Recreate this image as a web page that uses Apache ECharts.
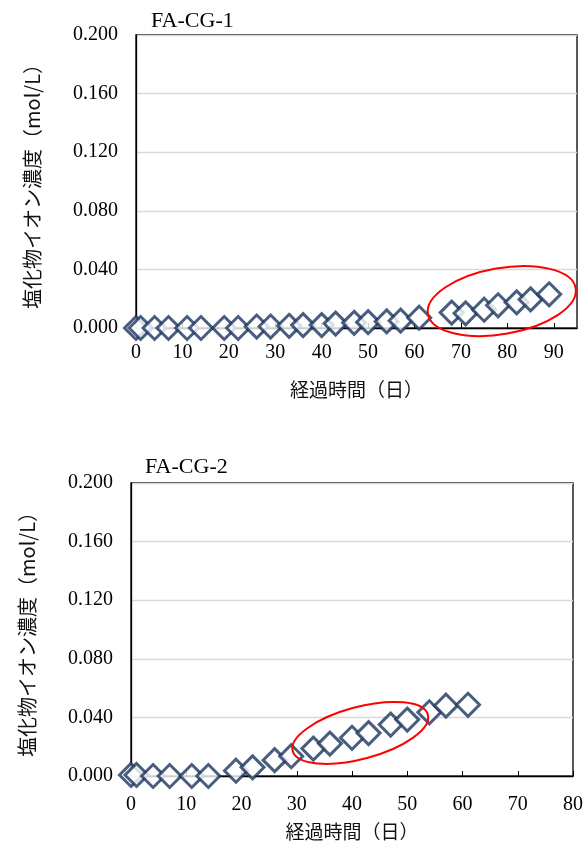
<!DOCTYPE html>
<html>
<head>
<meta charset="utf-8">
<script src="https://cdn.jsdelivr.net/npm/echarts@6/dist/echarts.min.js"></script>
<style>
  html, body { margin: 0; padding: 0; background: #fff; }
  #chart { width: 587px; height: 852px; }
</style>
</head>
<body>
<div id="chart"></div>
<script>
// FA-CG-1
const days1 = [0, 1, 4, 7, 11, 14, 19, 22, 26, 29, 33, 36, 40, 43, 47, 50, 54, 57, 61, 68, 71, 75, 78, 82, 85, 89];
const conc1 = [0, 0, 0, 0, 0, 0, 0, 0, 0.001, 0.001, 0.0015, 0.002, 0.002, 0.003, 0.0035, 0.004, 0.0045, 0.005, 0.007, 0.0105, 0.010, 0.0125, 0.0155, 0.0175, 0.0195, 0.023];
// FA-CG-2
const days2 = [0, 1, 4, 7, 11, 14, 19, 22, 26, 29, 33, 36, 40, 43, 47, 50, 54, 57, 61];
const conc2 = [0.0007, 0.0007, 0, 0, 0, 0, 0.0036, 0.0059, 0.0108, 0.0135, 0.0187, 0.0221, 0.0261, 0.0293, 0.0351, 0.0385, 0.0435, 0.048, 0.0486];

const titles = ["FA-CG-1", "FA-CG-2"];
const xMax = [95, 80];
const yTicks = ["0.000", "0.040", "0.080", "0.120", "0.160", "0.200"];
const yName = "塩化物イオン濃度（mol/L）";
const xName = "経過時間（日）";

// 赤い楕円の中心（データ座標）
const ringCenters = [[78.8, 0.0184], [41.5, 0.0294]];

const serif = "'Liberation Serif', 'DejaVu Serif', serif";
const cjk = "'Noto Sans CJK JP', sans-serif";
const navy = "#1c355e";

const chart = echarts.init(document.getElementById("chart"));

const toPairs = (xs, ys) => xs.map((x, i) => [x, ys[i]]);

const makeX = (idx, nameGap, labelMargin) => ({
  type: "value",
  gridIndex: idx,
  min: 0,
  max: xMax[idx],
  interval: 10,
  name: xName,
  nameLocation: "middle",
  nameGap: nameGap,
  nameTextStyle: { fontFamily: cjk, fontSize: 19, color: "#111" },
  axisLine: { show: true, onZero: false, lineStyle: { color: "#000", width: 1.3 } },
  axisTick: { show: true, inside: true, length: 5, lineStyle: { color: "#000" } },
  axisLabel: { fontFamily: serif, fontSize: 20, color: "#000", margin: labelMargin, showMaxLabel: idx === 1 },
  splitLine: { show: false }
});

const makeY = (idx) => ({
  type: "value",
  gridIndex: idx,
  min: 0,
  max: 0.2,
  interval: 0.04,
  name: yName,
  nameLocation: "middle",
  nameGap: 94,
  nameRotate: 90,
  nameTextStyle: { fontFamily: cjk, fontSize: 20, color: "#111" },
  axisLine: { show: true, lineStyle: { color: "#000", width: 1.3 } },
  axisTick: { show: false },
  axisLabel: {
    fontFamily: serif, fontSize: 20, color: "#000", margin: 18,
    formatter: (v) => yTicks[Math.round(v / 0.04)]
  },
  splitLine: { show: true, lineStyle: { color: "#d9d9d9", width: 1.3 } }
});

const makeSeries = (idx, data) => ({
  type: "scatter",
  xAxisIndex: idx,
  yAxisIndex: idx,
  data: data,
  symbol: "diamond",
  symbolSize: 23,
  itemStyle: { color: "#fff", borderColor: navy, borderWidth: 3 },
  emphasis: { disabled: true }
});

chart.setOption({
  animation: false,
  backgroundColor: "#fff",
  title: [
    { text: titles[0], left: 146, top: 5, textStyle: { fontFamily: serif, fontSize: 22, fontWeight: "normal", color: "#000" } },
    { text: titles[1], left: 140, top: 451, textStyle: { fontFamily: serif, fontSize: 22, fontWeight: "normal", color: "#000" } }
  ],
  grid: [
    { left: 136, right: 10, top: 35, height: 293, show: true, borderColor: "#000", borderWidth: 1.3, backgroundColor: "transparent" },
    { left: 131, right: 14, top: 483, height: 293, show: true, borderColor: "#000", borderWidth: 1.3, backgroundColor: "transparent" }
  ],
  xAxis: [makeX(0, 52, 15), makeX(1, 46, 19)],
  yAxis: [makeY(0), makeY(1)],
  series: [makeSeries(0, toPairs(days1, conc1)), makeSeries(1, toPairs(days2, conc2))]
});

// 赤い楕円（注記）
const ringShape = [
  { rx: 75, ry: 33, tilt: 10 },
  { rx: 70, ry: 26, tilt: 15 }
];
const rings = ringCenters.map((c, i) => {
  const p = chart.convertToPixel({ gridIndex: i }, c);
  return {
    type: "ellipse",
    x: p[0],
    y: p[1],
    rotation: ringShape[i].tilt * Math.PI / 180,
    shape: { cx: 0, cy: 0, rx: ringShape[i].rx, ry: ringShape[i].ry },
    style: { fill: "none", stroke: "#ff0000", lineWidth: 2 },
    z: 100
  };
});
chart.setOption({ graphic: rings });
</script>
</body>
</html>
